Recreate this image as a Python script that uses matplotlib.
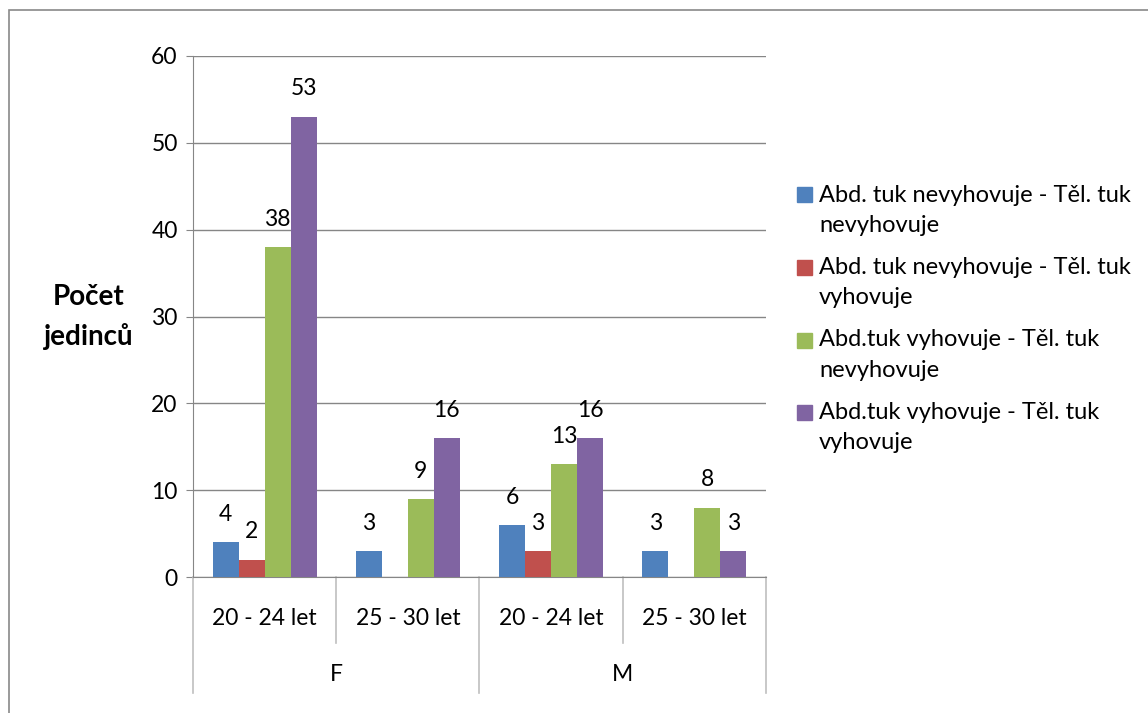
import numpy as np
import matplotlib.pyplot as plt
from matplotlib.patches import Rectangle

# Data: counts per age group (inner) and sex (outer)
age_groups = ["20 - 24 let", "25 - 30 let", "20 - 24 let", "25 - 30 let"]
sexes = ["F", "M"]
series_names = [
    "Abd. tuk nevyhovuje - Těl. tuk\nnevyhovuje",
    "Abd. tuk nevyhovuje - Těl. tuk\nvyhovuje",
    "Abd.tuk vyhovuje - Těl. tuk\nnevyhovuje",
    "Abd.tuk vyhovuje - Těl. tuk\nvyhovuje",
]
s1 = [4, 3, 6, 3]
s2 = [2, np.nan, 3, np.nan]
s3 = [38, 9, 13, 8]
s4 = [53, 16, 16, 3]
colors = ["#4F81BD", "#C0504D", "#9BBB59", "#8064A2"]
ylabel = ["Počet", "jedinců"]

plt.rcParams['font.family'] = ['Lato', 'DejaVu Sans']
fs = 16.5
grid_c = "#868686"
W, H = 1148, 713

fig = plt.figure(figsize=(W / 100, H / 100), dpi=100)
ax = fig.add_axes([0.1681, 0.1907, 0.4991, 0.7308])

x = np.arange(len(age_groups))
w = 1 / 5.5
for i, (vals, c) in enumerate(zip([s1, s2, s3, s4], colors)):
    pos = x + (i - 1.5) * w
    ax.bar(pos, vals, w, color=c, zorder=3)
    for p, v in zip(pos, vals):
        if not np.isnan(v):
            ax.annotate(f"{v:g}", (p, v), xytext=(0, 20), textcoords="offset points",
                        ha="center", va="center", fontsize=fs)

ax.set_xlim(-0.5, 3.5)
ax.set_ylim(0, 60)
ax.set_yticks(range(0, 61, 10))
ax.tick_params(axis="y", labelsize=fs, length=5, color=grid_c, pad=6)
ax.set_xticks([])
ax.grid(axis="y", color=grid_c, lw=1, zorder=0)
for s in ["top", "right"]:
    ax.spines[s].set_visible(False)
for s in ["left", "bottom"]:
    ax.spines[s].set_color(grid_c)

# two-level category axis
tr = ax.get_xaxis_transform()
for b in np.arange(-0.5, 3.6, 1):
    depth = -0.223 if b in (-0.5, 1.5, 3.5) else -0.127
    ax.plot([b, b], [0, depth], transform=tr, color="#BFBFBF", lw=1.2, clip_on=False)
for xi, lab in zip(x, age_groups):
    ax.text(xi, -0.079, lab, transform=tr, ha="center", va="center", fontsize=fs)
for k, lab in enumerate(sexes):
    ax.text(2 * k + 0.5, -0.188, lab, transform=tr, ha="center", va="center", fontsize=fs)

# axis title, one line at a time
for j, line in enumerate(ylabel):
    fig.text(89 / W, 1 - (297 + 39 * j) / H, line, ha="center", va="center",
             fontsize=20, fontweight="bold")

# legend: square aligned with the first line of each two-line label
for i, (name, c) in enumerate(zip(series_names, colors)):
    y0 = 195 + i * 72.5
    fig.add_artist(Rectangle((797 / W, 1 - (y0 + 7.5) / H), 15 / W, 15 / H,
                             transform=fig.transFigure, color=c))
    first, second = name.split("\n")
    fig.text(819 / W, 1 - y0 / H, first, ha="left", va="center", fontsize=fs + 0.5)
    fig.text(819 / W, 1 - (y0 + 30) / H, second, ha="left", va="center", fontsize=fs + 0.5)

fig.add_artist(Rectangle((9 / W, -0.01), 1.05, 1 - 10 / H + 0.01,
                         transform=fig.transFigure, fill=False, ec="#898989", lw=1.2))

fig.savefig("out.png", dpi=100)
